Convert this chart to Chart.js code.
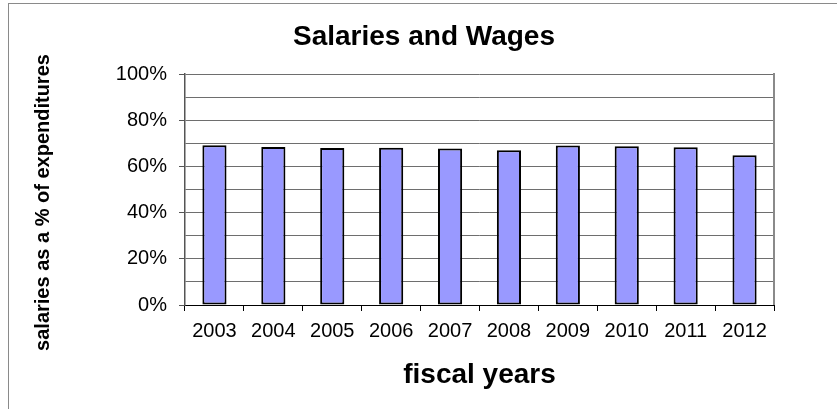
<!DOCTYPE html>
<html>
<head>
<meta charset="utf-8">
<script src="https://cdn.jsdelivr.net/npm/chart.js@4"></script>
<style>
  html, body { margin: 0; padding: 0; background: #fff; }
  #wrap { width: 837px; height: 409px; }
</style>
</head>
<body>
<div id="wrap"><canvas id="salaries_chart" width="837" height="409"></canvas></div>
<script>
// Salaries as a share of total expenditures, by fiscal year
const FISCAL_YEARS = ["2003", "2004", "2005", "2006", "2007", "2008", "2009", "2010", "2011", "2012"];
const SALARY_SHARE = [69.2, 68.4, 68.0, 68.1, 67.7, 67.0, 69.0, 68.7, 68.3, 64.8];
const Y_LABELED = [0, 20, 40, 60, 80, 100];

const CHART_TITLE = "Salaries and Wages";
const Y_TITLE = "salaries as a % of expenditures";
const X_TITLE = "fiscal years";

const FONT = '"Liberation Sans", Arial, sans-serif';
const GRID_GREY = "#6e6e6e";
const FRAME_GREY = "#8a8a8a";

// outer frame + chart title + y axis title
const frameTitles = {
  id: "frameTitles",
  beforeDraw(chart) {
    const { ctx, width, height } = chart;
    ctx.save();
    ctx.fillStyle = "#fff";
    ctx.fillRect(0, 0, width, height);
    ctx.strokeStyle = FRAME_GREY;
    ctx.lineWidth = 1;
    ctx.strokeRect(8.5, 3.5, width + 20, height + 20);
    ctx.restore();
  },
  beforeDatasetsDraw(chart) {
    const { ctx, chartArea } = chart;
    ctx.save();
    ctx.strokeStyle = FRAME_GREY;
    ctx.lineWidth = 2;
    ctx.beginPath();
    ctx.moveTo(chartArea.right, chartArea.top - 1);
    ctx.lineTo(chartArea.right, chartArea.bottom);
    ctx.stroke();
    ctx.restore();
  },
  afterDraw(chart) {
    const { ctx } = chart;
    ctx.save();
    ctx.fillStyle = "#000";
    ctx.textAlign = "center";
    ctx.textBaseline = "alphabetic";
    ctx.font = `bold 28px ${FONT}`;
    ctx.fillText(CHART_TITLE, 424, 45);

    ctx.translate(49, 202.5);
    ctx.rotate(-Math.PI / 2);
    ctx.font = `bold 20px ${FONT}`;
    ctx.fillText(Y_TITLE, 0, 0);
    ctx.restore();
  },
};

new Chart(document.getElementById("salaries_chart"), {
  type: "bar",
  data: {
    labels: FISCAL_YEARS,
    datasets: [
      {
        data: SALARY_SHARE,
        backgroundColor: "#9999FF",
        borderColor: "#000",
        borderWidth: 2,
        borderSkipped: false,
        categoryPercentage: 1,
        barPercentage: 0.41,
      },
    ],
  },
  options: {
    responsive: false,
    animation: false,
    devicePixelRatio: 1,
    layout: { padding: { left: 8, right: 63, top: 74, bottom: 0 } },
    plugins: {
      legend: { display: false },
      tooltip: { enabled: false },
      title: { display: false },
    },
    scales: {
      x: {
        grid: {
          display: true,
          offset: true,
          drawOnChartArea: false,
          drawTicks: true,
          tickLength: 6,
          color: "#000",
        },
        border: { display: true, color: "#000", width: 1 },
        ticks: {
          color: "#000",
          font: { family: FONT, size: 20 },
          padding: 8,
          maxRotation: 0,
          autoSkip: false,
        },
        title: {
          display: true,
          text: X_TITLE,
          color: "#000",
          font: { family: FONT, size: 28, weight: "bold" },
          padding: { top: 0, bottom: 17 },
        },
        afterFit(scale) {
          scale.height = 104;
        },
      },
      y: {
        min: 0,
        max: 100,
        grid: {
          color: (c) => (c.tick && c.tick.value === 0 ? "#000" : GRID_GREY),
          lineWidth: 1,
          drawTicks: true,
          tickLength: 6,
          tickColor: (c) =>
            c.tick && Y_LABELED.includes(c.tick.value) ? "#555" : "transparent",
        },
        border: { display: true, color: "#555", width: 1.5 },
        ticks: {
          stepSize: 10,
          autoSkip: false,
          color: "#000",
          font: { family: FONT, size: 20 },
          padding: 12,
          callback: (v) => (Y_LABELED.includes(v) ? v + "%" : ""),
        },
        afterFit(scale) {
          scale.width = 177;
        },
      },
    },
  },
  plugins: [frameTitles],
});
</script>
</body>
</html>
